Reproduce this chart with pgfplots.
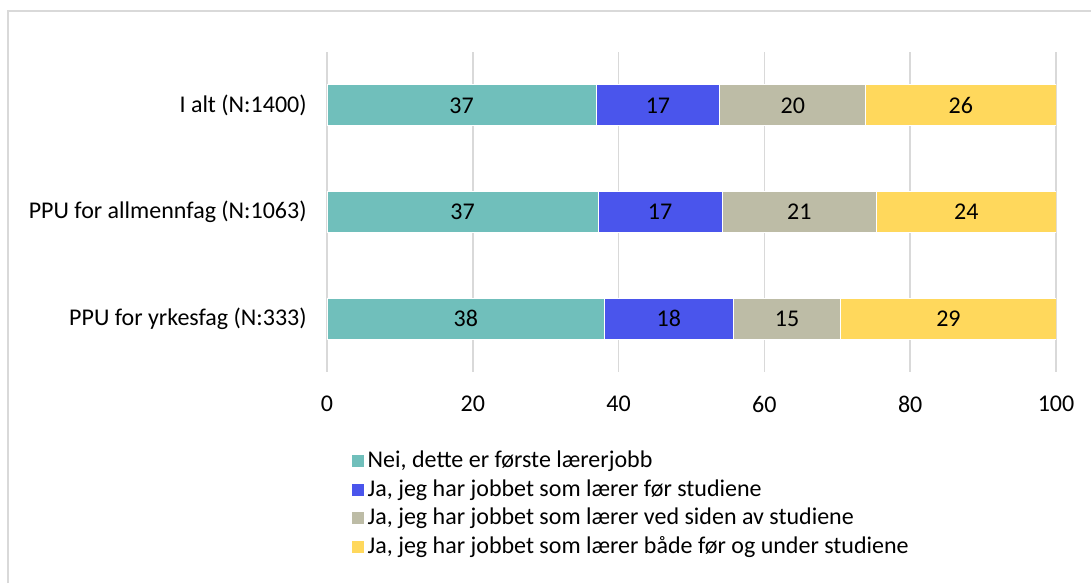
\documentclass[border=0pt]{standalone}
\usepackage{fontspec}
\setmainfont{Carlito}
\usepackage{pgfplots}
\pgfplotsset{compat=1.18}
\definecolor{cteal}{HTML}{70BFBB}
\definecolor{cblue}{HTML}{4A55EC}
\definecolor{cgray}{HTML}{BDBCA6}
\definecolor{cyell}{HTML}{FFD85C}
\definecolor{gridc}{HTML}{D9D9D9}
\begin{document}
\fontsize{12}{14.4}\selectfont
\begin{tikzpicture}
\useasboundingbox (0pt,0pt) rectangle (545.5pt,291.5pt);
\fill[white] (0pt,0pt) rectangle (545.5pt,291.5pt);
\draw[gridc,line width=0.8pt] (4pt,0pt) -- (4pt,286pt) -- (545.5pt,286pt);
\begin{axis}[
  at={(163.5pt,105.5pt)}, anchor=south west,
  width=364.5pt, height=160pt, scale only axis,
  xbar stacked, bar width=20.5pt,
  xmin=0, xmax=100, ymin=-0.5, ymax=2.5,
  xtick={0,20,...,100},
  ytick={0,1,2},
  yticklabels={PPU for yrkesfag (N:333),PPU for allmennfag (N:1063),I alt (N:1400)},
  axis line style={draw=none},
  major tick length=0pt,
  xmajorgrids, grid style={draw=gridc, line width=0.8pt},
  tick label style={font=\fontsize{12}{14.4}\selectfont},
  /pgf/number format/assume math mode=true,
  xticklabel style={yshift=-8pt},
  yticklabel style={xshift=-6pt},
  point meta=explicit symbolic,
  nodes near coords={\pgfplotspointmeta},
  every node near coord/.append style={anchor=center, font=\fontsize{12}{14.4}\selectfont, text=black},
  legend style={at={(0.032,-0.235)}, anchor=north west, draw=none, fill=none,
    font=\fontsize{12}{14.4}\selectfont, row sep=0pt, inner sep=0pt,
    nodes={inner xsep=1.5pt, inner ysep=0pt, text height=10pt, text depth=4.25pt}},
  legend cell align=left,
  legend image code/.code={\fill[#1] (0pt,-3pt) rectangle (6.5pt,3.5pt);},
]
\addplot[fill=cteal, draw=white, line width=0.5pt] coordinates {(38.1,0)[38] (37.2,1)[37] (36.9,2)[37]};
\addplot[fill=cblue, draw=white, line width=0.5pt] coordinates {(17.6,0)[18] (17.0,1)[17] (17.0,2)[17]};
\addplot[fill=cgray, draw=white, line width=0.5pt] coordinates {(14.8,0)[15] (21.2,1)[21] (20.0,2)[20]};
\addplot[fill=cyell, draw=white, line width=0.5pt] coordinates {(29.5,0)[29] (24.6,1)[24] (26.1,2)[26]};
\legend{{Nei, dette er første lærerjobb},{Ja, jeg har jobbet som lærer før studiene},{Ja, jeg har jobbet som lærer ved siden av studiene},{Ja, jeg har jobbet som lærer både før og under studiene}}
\end{axis}
\end{tikzpicture}
\end{document}
